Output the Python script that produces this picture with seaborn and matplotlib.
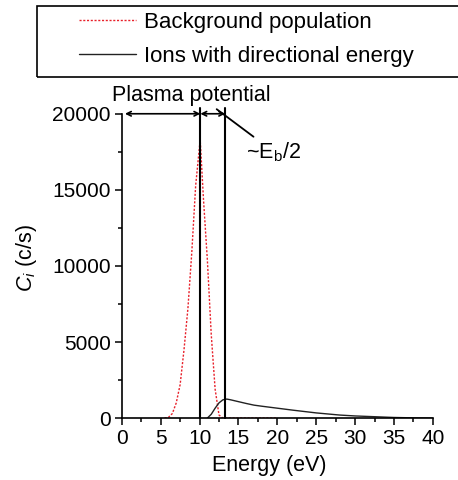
import matplotlib
matplotlib.use('Agg')
import matplotlib.pyplot as plt
import pandas as pd
import seaborn as sns
from matplotlib.patches import Rectangle
from matplotlib.ticker import MultipleLocator

# background population (red dotted)
bg_energy = [5.5, 6, 6.5, 7, 7.5, 8, 8.5, 9, 9.5, 10, 10.1, 10.5, 11, 11.5, 12, 12.5, 13, 13.5,
             14, 15, 16, 17, 18, 19, 20]
bg_counts = [0, 50, 300, 1000, 2200, 4500, 7200, 10900, 15300, 17900, 18100, 14400, 10400, 5500,
             1900, 200, 0, 0, 0, 0, 0, 0, 0, 0, 0]

# ions with directional energy (black solid)
dir_energy = [11, 11.5, 12, 12.5, 13, 13.5, 14, 15, 16, 17, 18, 20, 22, 25, 28, 30, 33, 35, 38, 40]
dir_counts = [0, 250, 650, 1000, 1200, 1250, 1200, 1080, 960, 850, 780, 650, 520, 340, 200, 140, 80,
              40, 10, 0]

plasma_potential = 10.1
beam_edge = 13.3

sns.set_style('ticks')
plt.rcParams['font.family'] = ['Liberation Sans', 'DejaVu Sans']
plt.rcParams['mathtext.fontset'] = 'custom'
plt.rcParams['mathtext.rm'] = 'Liberation Sans'
plt.rcParams['mathtext.it'] = 'Liberation Sans:italic'
plt.rcParams['font.size'] = 15
for key in ['text.color', 'axes.labelcolor', 'xtick.color', 'ytick.color']:
    plt.rcParams[key] = 'black'

bg_df = pd.DataFrame({'Energy': bg_energy, 'Counts': bg_counts})
dir_df = pd.DataFrame({'Energy': dir_energy, 'Counts': dir_counts})

fig = plt.figure(figsize=(4.58, 4.8), dpi=100)
ax = fig.add_axes([0.266, 0.129, 0.679, 0.634])

sns.lineplot(data=bg_df, x='Energy', y='Counts', ax=ax, color='#e8202a', lw=1.0,
             linestyle=(0, (1.5, 1.2)), label='Background population')
sns.lineplot(data=dir_df, x='Energy', y='Counts', ax=ax, color='#222222', lw=1.0,
             label='Ions with directional energy')

# vertical markers
for xv in [plasma_potential, beam_edge]:
    ax.plot([xv, xv], [0, 20350], color='black', lw=1.5, clip_on=False)

# double arrows
ax.annotate('', xy=(0.4, 20000), xytext=(plasma_potential, 20000),
            arrowprops=dict(arrowstyle='<->', color='black', lw=1.2, mutation_scale=8,
                            shrinkA=0, shrinkB=0), annotation_clip=False)
ax.annotate('', xy=(plasma_potential, 20000), xytext=(beam_edge, 20000),
            arrowprops=dict(arrowstyle='<->', color='black', lw=1.2, mutation_scale=8,
                            shrinkA=0, shrinkB=0), annotation_clip=False)
ax.text(9.0, 20500, 'Plasma potential', ha='center', va='bottom', fontsize=15.5)
ax.annotate('~E$_\\mathregular{b}$/2', xy=(12.2, 20300), xytext=(16.0, 17500),
            ha='left', va='center', fontsize=15.5,
            arrowprops=dict(arrowstyle='-', color='black', lw=1.3, shrinkA=0, shrinkB=0),
            annotation_clip=False)

ax.set_xlim(0, 40)
ax.set_ylim(0, 20000)
ax.xaxis.set_major_locator(MultipleLocator(5))
ax.xaxis.set_minor_locator(MultipleLocator(2.5))
ax.yaxis.set_major_locator(MultipleLocator(5000))
ax.yaxis.set_minor_locator(MultipleLocator(2500))
ax.tick_params(which='major', length=5, width=1.1, labelsize=15, color='black', pad=3)
ax.tick_params(which='minor', length=3, width=1.1, color='black')
sns.despine(ax=ax)
for s in ['left', 'bottom']:
    ax.spines[s].set_linewidth(1.2)
    ax.spines[s].set_color('black')

ax.set_xlabel('Energy (eV)', fontsize=15.5, va='center')
ax.set_ylabel('$C_i$ (c/s)', fontsize=15.5, va='center')
ax.xaxis.set_label_coords(0.473, -0.155)
ax.yaxis.set_label_coords(-0.305, 0.526)

# legend box spanning the top of the figure
handles, labels = ax.get_legend_handles_labels()
ax.get_legend().remove()
fig.patches.append(Rectangle((0.081, 0.84), 0.95, 0.148, transform=fig.transFigure,
                             fill=False, edgecolor='black', lw=1.2))
fig.legend(handles, labels, loc='upper left', bbox_to_anchor=(0.172, 0.976),
           frameon=False, fontsize=16, handlelength=2.57, handletextpad=0.36,
           borderpad=0, labelspacing=0.6, borderaxespad=0)

fig.savefig('out.png', dpi=100)
